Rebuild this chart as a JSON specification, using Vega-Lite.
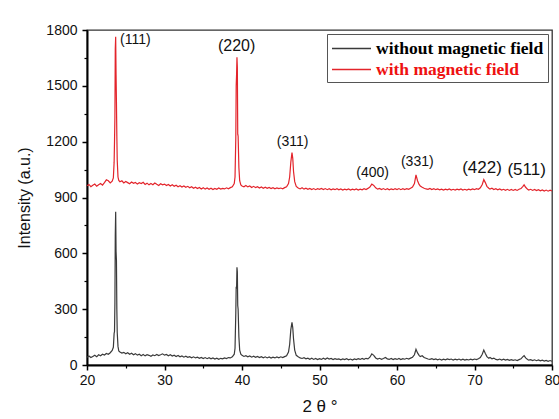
{
  "$schema": "https://vega.github.io/schema/vega-lite/v6.json",
  "width": 465,
  "height": 335,
  "autosize": "none",
  "padding": {"left": 87, "top": 30, "right": 7, "bottom": 54},
  "background": "white",
  "config": {
    "view": {"stroke": "#333333", "strokeWidth": 1.3},
    "axis": {"labelFont": "Liberation Sans", "titleFont": "Liberation Sans", "labelColor": "#111", "titleColor": "#111", "titleFontWeight": "normal", "grid": false, "domainColor": "#000", "tickColor": "#000", "labelFlush": false}
  },
  "datasets": {
    "xrd": [
      {"t":20.00,"with":963,"without":42},{"t":20.25,"with":970,"without":48},{"t":20.50,"with":958,"without":40},{"t":20.75,"with":966,"without":46},
      {"t":21.00,"with":972,"without":52},{"t":21.25,"with":961,"without":44},{"t":21.50,"with":969,"without":55},{"t":21.75,"with":975,"without":50},
      {"t":22.00,"with":966,"without":58},{"t":22.25,"with":980,"without":54},{"t":22.50,"with":995,"without":62},{"t":22.75,"with":990,"without":58},
      {"t":23.00,"with":978,"without":66},{"t":23.25,"with":988,"without":78},{"t":23.40,"with":1005,"without":95},{"t":23.50,"with":1090,"without":170},
      {"t":23.55,"with":1200,"without":180},{"t":23.60,"with":1330,"without":330},{"t":23.65,"with":1700,"without":700},{"t":23.70,"with":1764,"without":824},
      {"t":23.75,"with":1560,"without":610},{"t":23.80,"with":1410,"without":560},{"t":23.85,"with":1230,"without":300},{"t":23.90,"with":1100,"without":175},
      {"t":24.00,"with":1010,"without":100},{"t":24.10,"with":992,"without":75},{"t":24.25,"with":985,"without":70},{"t":24.50,"with":990,"without":64},
      {"t":24.75,"with":978,"without":68},{"t":25.00,"with":986,"without":60},{"t":25.25,"with":980,"without":66},{"t":25.50,"with":974,"without":58},
      {"t":25.75,"with":983,"without":63},{"t":26.00,"with":976,"without":55},{"t":26.25,"with":981,"without":61},{"t":26.50,"with":972,"without":53},
      {"t":26.75,"with":979,"without":58},{"t":27.00,"with":975,"without":50},{"t":27.25,"with":982,"without":56},{"t":27.50,"with":970,"without":49},
      {"t":27.75,"with":977,"without":55},{"t":28.00,"with":968,"without":52},{"t":28.25,"with":975,"without":47},{"t":28.50,"with":969,"without":54},
      {"t":28.75,"with":978,"without":50},{"t":29.00,"with":971,"without":57},{"t":29.25,"with":965,"without":51},{"t":29.50,"with":974,"without":55},
      {"t":29.75,"with":968,"without":60},{"t":30.00,"with":972,"without":53},{"t":30.25,"with":964,"without":57},{"t":30.50,"with":970,"without":50},
      {"t":30.75,"with":962,"without":55},{"t":31.00,"with":968,"without":48},{"t":31.25,"with":960,"without":53},{"t":31.50,"with":966,"without":46},
      {"t":31.75,"with":958,"without":51},{"t":32.00,"with":963,"without":44},{"t":32.25,"with":956,"without":49},{"t":32.50,"with":962,"without":42},
      {"t":32.75,"with":955,"without":47},{"t":33.00,"with":960,"without":41},{"t":33.25,"with":952,"without":45},{"t":33.50,"with":958,"without":39},
      {"t":33.75,"with":950,"without":44},{"t":34.00,"with":955,"without":38},{"t":34.25,"with":948,"without":42},{"t":34.50,"with":954,"without":36},
      {"t":34.75,"with":946,"without":41},{"t":35.00,"with":952,"without":35},{"t":35.25,"with":945,"without":40},{"t":35.50,"with":951,"without":34},
      {"t":35.75,"with":944,"without":39},{"t":36.00,"with":950,"without":33},{"t":36.25,"with":943,"without":38},{"t":36.50,"with":949,"without":32},
      {"t":36.75,"with":944,"without":37},{"t":37.00,"with":951,"without":31},{"t":37.25,"with":945,"without":36},{"t":37.50,"with":949,"without":33},
      {"t":37.75,"with":946,"without":38},{"t":38.00,"with":952,"without":35},{"t":38.25,"with":947,"without":40},{"t":38.50,"with":953,"without":38},
      {"t":38.75,"with":958,"without":44},{"t":39.00,"with":975,"without":58},{"t":39.10,"with":1010,"without":90},{"t":39.20,"with":1220,"without":280},
      {"t":39.25,"with":1500,"without":420},{"t":39.30,"with":1560,"without":410},{"t":39.35,"with":1653,"without":525},{"t":39.40,"with":1600,"without":500},
      {"t":39.45,"with":1240,"without":320},{"t":39.50,"with":1230,"without":300},{"t":39.60,"with":1060,"without":150},{"t":39.70,"with":990,"without":80},
      {"t":39.85,"with":968,"without":58},{"t":40.00,"with":962,"without":52},{"t":40.25,"with":958,"without":46},{"t":40.50,"with":965,"without":50},
      {"t":40.75,"with":957,"without":44},{"t":41.00,"with":962,"without":49},{"t":41.25,"with":954,"without":42},{"t":41.50,"with":960,"without":47},
      {"t":41.75,"with":953,"without":41},{"t":42.00,"with":958,"without":46},{"t":42.25,"with":951,"without":40},{"t":42.50,"with":957,"without":45},
      {"t":42.75,"with":950,"without":39},{"t":43.00,"with":955,"without":44},{"t":43.25,"with":949,"without":38},{"t":43.50,"with":954,"without":43},
      {"t":43.75,"with":948,"without":37},{"t":44.00,"with":953,"without":42},{"t":44.25,"with":947,"without":38},{"t":44.50,"with":952,"without":43},
      {"t":44.75,"with":948,"without":39},{"t":45.00,"with":951,"without":44},{"t":45.25,"with":947,"without":40},{"t":45.50,"with":953,"without":45},
      {"t":45.75,"with":958,"without":50},{"t":46.00,"with":975,"without":70},{"t":46.15,"with":1010,"without":110},{"t":46.30,"with":1090,"without":190},
      {"t":46.45,"with":1141,"without":229},{"t":46.55,"with":1110,"without":200},{"t":46.65,"with":1040,"without":140},{"t":46.80,"with":985,"without":80},
      {"t":47.00,"with":960,"without":52},{"t":47.25,"with":951,"without":44},{"t":47.50,"with":946,"without":38},{"t":47.75,"with":952,"without":35},
      {"t":48.00,"with":945,"without":39},{"t":48.25,"with":950,"without":33},{"t":48.50,"with":944,"without":37},{"t":48.75,"with":949,"without":31},
      {"t":49.00,"with":943,"without":36},{"t":49.25,"with":948,"without":30},{"t":49.50,"with":942,"without":35},{"t":49.75,"with":947,"without":29},
      {"t":50.00,"with":944,"without":34},{"t":50.25,"with":949,"without":30},{"t":50.50,"with":943,"without":36},{"t":50.75,"with":948,"without":31},
      {"t":51.00,"with":942,"without":38},{"t":51.25,"with":947,"without":32},{"t":51.50,"with":941,"without":35},{"t":51.75,"with":946,"without":29},
      {"t":52.00,"with":942,"without":34},{"t":52.25,"with":947,"without":30},{"t":52.50,"with":941,"without":33},{"t":52.75,"with":946,"without":28},
      {"t":53.00,"with":940,"without":33},{"t":53.25,"with":945,"without":29},{"t":53.50,"with":941,"without":34},{"t":53.75,"with":946,"without":28},
      {"t":54.00,"with":940,"without":32},{"t":54.25,"with":945,"without":27},{"t":54.50,"with":941,"without":33},{"t":54.75,"with":946,"without":29},
      {"t":55.00,"with":940,"without":34},{"t":55.25,"with":945,"without":30},{"t":55.50,"with":941,"without":35},{"t":55.75,"with":947,"without":31},
      {"t":56.00,"with":943,"without":36},{"t":56.25,"with":949,"without":33},{"t":56.50,"with":956,"without":42},{"t":56.75,"with":972,"without":60},
      {"t":57.00,"with":965,"without":52},{"t":57.25,"with":952,"without":38},{"t":57.50,"with":945,"without":32},{"t":57.75,"with":949,"without":36},
      {"t":58.00,"with":943,"without":31},{"t":58.25,"with":948,"without":35},{"t":58.50,"with":942,"without":40},{"t":58.75,"with":947,"without":33},
      {"t":59.00,"with":941,"without":30},{"t":59.25,"with":946,"without":35},{"t":59.50,"with":942,"without":29},{"t":59.75,"with":947,"without":34},
      {"t":60.00,"with":943,"without":30},{"t":60.25,"with":948,"without":35},{"t":60.50,"with":942,"without":29},{"t":60.75,"with":947,"without":34},
      {"t":61.00,"with":943,"without":31},{"t":61.25,"with":948,"without":36},{"t":61.50,"with":944,"without":32},{"t":61.75,"with":950,"without":37},
      {"t":62.00,"with":956,"without":42},{"t":62.25,"with":975,"without":55},{"t":62.45,"with":1022,"without":84},{"t":62.65,"with":990,"without":65},
      {"t":62.85,"with":970,"without":52},{"t":63.00,"with":962,"without":45},{"t":63.25,"with":955,"without":50},{"t":63.50,"with":950,"without":40},
      {"t":63.75,"with":946,"without":36},{"t":64.00,"with":944,"without":32},{"t":64.25,"with":949,"without":30},{"t":64.50,"with":943,"without":34},
      {"t":64.75,"with":947,"without":29},{"t":65.00,"with":942,"without":33},{"t":65.25,"with":946,"without":28},{"t":65.50,"with":941,"without":32},
      {"t":65.75,"with":945,"without":27},{"t":66.00,"with":940,"without":31},{"t":66.25,"with":945,"without":28},{"t":66.50,"with":941,"without":33},
      {"t":66.75,"with":946,"without":29},{"t":67.00,"with":940,"without":32},{"t":67.25,"with":944,"without":27},{"t":67.50,"with":940,"without":31},
      {"t":67.75,"with":945,"without":28},{"t":68.00,"with":941,"without":32},{"t":68.25,"with":946,"without":27},{"t":68.50,"with":940,"without":31},
      {"t":68.75,"with":944,"without":26},{"t":69.00,"with":940,"without":30},{"t":69.25,"with":945,"without":27},{"t":69.50,"with":941,"without":31},
      {"t":69.75,"with":946,"without":28},{"t":70.00,"with":942,"without":32},{"t":70.25,"with":947,"without":29},{"t":70.50,"with":944,"without":34},
      {"t":70.75,"with":952,"without":40},{"t":71.00,"with":970,"without":58},{"t":71.20,"with":996,"without":80},{"t":71.40,"with":980,"without":62},
      {"t":71.60,"with":960,"without":45},{"t":71.85,"with":950,"without":36},{"t":72.00,"with":945,"without":40},{"t":72.25,"with":950,"without":33},
      {"t":72.50,"with":943,"without":37},{"t":72.75,"with":947,"without":30},{"t":73.00,"with":941,"without":28},{"t":73.25,"with":946,"without":32},
      {"t":73.50,"with":940,"without":27},{"t":73.75,"with":944,"without":31},{"t":74.00,"with":939,"without":26},{"t":74.25,"with":944,"without":30},
      {"t":74.50,"with":938,"without":25},{"t":74.75,"with":943,"without":29},{"t":75.00,"with":938,"without":25},{"t":75.25,"with":943,"without":28},
      {"t":75.50,"with":938,"without":24},{"t":75.75,"with":944,"without":29},{"t":76.00,"with":948,"without":33},{"t":76.25,"with":960,"without":45},
      {"t":76.40,"with":968,"without":50},{"t":76.60,"with":955,"without":38},{"t":76.85,"with":944,"without":30},{"t":77.00,"with":940,"without":26},
      {"t":77.25,"with":944,"without":29},{"t":77.50,"with":938,"without":24},{"t":77.75,"with":943,"without":28},{"t":78.00,"with":937,"without":23},
      {"t":78.25,"with":942,"without":27},{"t":78.50,"with":936,"without":22},{"t":78.75,"with":941,"without":26},{"t":79.00,"with":935,"without":21},
      {"t":79.25,"with":940,"without":25},{"t":79.50,"with":934,"without":20},{"t":79.75,"with":939,"without":24},{"t":80.00,"with":935,"without":20}
    ],
    "peaks": [
      {"label":"(111)","t":24.26,"y":1746},
      {"label":"(220)","t":39.31,"y":1714},
      {"label":"(311)","t":46.54,"y":1198},
      {"label":"(400)","t":56.86,"y":1034},
      {"label":"(331)","t":62.62,"y":1091},
      {"label":"(422)","t":70.97,"y":1056},
      {"label":"(511)","t":76.73,"y":1048}
    ]
  },
  "resolve": {"axis": {"x": "independent", "y": "independent"}},
  "layer": [
    {
      "data": {"name": "xrd"},
      "transform": [
        {"fold": ["without", "with"], "as": ["series", "intensity"]}
      ],
      "mark": {"type": "line", "strokeWidth": 1.2, "interpolate": "linear"},
      "encoding": {
        "x": {"field": "t", "type": "quantitative", "scale": {"domain": [20, 80], "nice": false, "zero": false},
              "axis": {"orient": "bottom", "values": [20, 30, 40, 50, 60, 70, 80], "format": "d", "title": "2 θ °", "titleFontSize": 17, "titlePadding": 11, "labelFontSize": 14, "labelPadding": 3, "tickSize": 5, "domainWidth": 2, "tickWidth": 1.5, "labelAngle": 0}},
        "y": {"field": "intensity", "type": "quantitative", "scale": {"domain": [0, 1800], "nice": false},
              "axis": {"orient": "left", "values": [0, 300, 600, 900, 1200, 1500, 1800], "format": "d", "title": "Intensity (a.u.)", "titleFontSize": 16, "titlePadding": 13, "labelFontSize": 14, "labelPadding": 5, "tickSize": 5, "domainWidth": 2, "tickWidth": 1.5}},
        "color": {"field": "series", "type": "nominal",
                  "scale": {"domain": ["without", "with"], "range": ["#3a3a3a", "#e3242b"]},
                  "legend": {"title": null, "orient": "top-right", "offset": 4, "strokeColor": "#555", "fillColor": "white", "padding": 4,
                             "symbolType": "M-2,0H2", "symbolSize": 380, "symbolStrokeWidth": 1.5, "symbolOffset": 10, "labelOffset": 14,
                             "labelFont": "Liberation Serif", "labelFontWeight": "bold", "labelFontSize": 17.5, "rowPadding": 2, "labelLimit": 400,
                             "labelExpr": "datum.value == 'with' ? 'with magnetic field' : 'without magnetic field'",
                             "labelColor": {"expr": "datum.value == 'with' ? '#ee1111' : '#000000'"}}},
        "detail": {"field": "series"}
      }
    },
    {
      "data": {"name": "peaks"},
      "transform": [{"filter": "datum.label == '(111)'"}],
      "mark": {"type": "text", "font": "Liberation Sans", "fontSize": 14, "align": "left", "baseline": "middle", "color": "#111"},
      "encoding": {
        "x": {"field": "t", "type": "quantitative", "axis": {"orient": "bottom", "values": [25, 35, 45, 55, 65, 75], "labels": false, "title": null, "domain": false, "tickSize": 3, "tickWidth": 1.2}},
        "y": {"field": "y", "type": "quantitative", "axis": {"orient": "left", "values": [150, 450, 750, 1050, 1350, 1650], "labels": false, "title": null, "domain": false, "tickSize": 3, "tickWidth": 1.2}},
        "text": {"field": "label"}
      }
    },
    {
      "data": {"name": "peaks"},
      "transform": [{"filter": "indexof(['(311)','(400)','(331)'], datum.label) >= 0"}],
      "mark": {"type": "text", "font": "Liberation Sans", "fontSize": 14, "align": "center", "baseline": "middle", "color": "#111"},
      "encoding": {
        "x": {"field": "t", "type": "quantitative", "axis": null},
        "y": {"field": "y", "type": "quantitative", "axis": null},
        "text": {"field": "label"}
      }
    },
    {
      "data": {"name": "peaks"},
      "transform": [{"filter": "datum.label == '(220)'"}],
      "mark": {"type": "text", "font": "Liberation Sans", "fontSize": 16, "align": "center", "baseline": "middle", "color": "#111"},
      "encoding": {
        "x": {"field": "t", "type": "quantitative", "axis": null},
        "y": {"field": "y", "type": "quantitative", "axis": null},
        "text": {"field": "label"}
      }
    },
    {
      "data": {"name": "peaks"},
      "transform": [{"filter": "indexof(['(422)','(511)'], datum.label) >= 0"}],
      "mark": {"type": "text", "font": "Liberation Sans", "fontSize": 17, "align": "center", "baseline": "middle", "color": "#111"},
      "encoding": {
        "x": {"field": "t", "type": "quantitative", "axis": null},
        "y": {"field": "y", "type": "quantitative", "axis": null},
        "text": {"field": "label"}
      }
    }
  ]
}
